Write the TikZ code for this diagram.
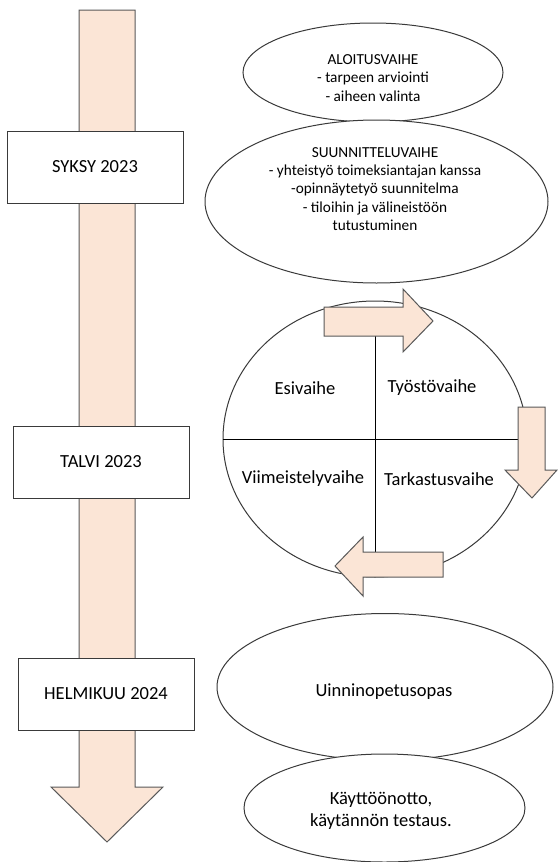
\documentclass[tikz,border=0pt]{standalone}
\usepackage{fontspec}
\setmainfont{Carlito}
\usepackage{tikz}
\usetikzlibrary{shapes.geometric,calc}
\definecolor{peach}{HTML}{FBE5D6}
\definecolor{arrline}{HTML}{595959}
\definecolor{ln}{HTML}{3A3A3A}
\tikzset{
  blockarr/.style={fill=peach, draw=arrline, line width=1pt, line join=miter},
  period/.style={draw=ln, line width=1pt, fill=white, minimum width=176pt, minimum height=72pt, inner sep=0pt, font=\fontsize{18.5}{22}\selectfont},
  phase/.style={ellipse, draw=ln, line width=1pt, fill=white, inner sep=0pt},
  smalltxt/.style={align=center, inner sep=0pt, font=\fontsize{15.3}{18.3}\selectfont},
  bigtxt/.style={align=center, inner sep=0pt, font=\fontsize{18.5}{22}\selectfont},
  divline/.style={draw=black, line width=1pt},
}
\begin{document}
\begin{tikzpicture}[x=1pt,y=-1pt]
  \useasboundingbox (0,0) rectangle (557,862);
  % timeline arrow
  \draw[blockarr] (79,10) -- (135,10) -- (135,787) -- (163,787) -- (107,842) -- (51,787) -- (79,787) -- cycle;
  \node[period] (syksy) at (95,167) {SYKSY 2023};
  \node[period] (talvi) at (101,462) {TALVI 2023};
  \node[period] (helmi) at (106,694) {HELMIKUU 2024};
  % start and planning
  \node[phase, minimum width=260pt, minimum height=99pt] (aloitus) at (373,72.5) {};
  \node[smalltxt] (aloitusT) at (373,78) {ALOITUSVAIHE\\- tarpeen arviointi\\- aiheen valinta};
  \node[phase, minimum width=343pt, minimum height=163pt] (suunn) at (376.5,201.5) {};
  \node[smalltxt] (suunnT) at (375,189) {SUUNNITTELUVAIHE\\- yhteistyö toimeksiantajan kanssa\\-opinnäytetyö suunnitelma\\- tiloihin ja välineistöön\\tutustuminen};
  % working cycle
  \node[phase, minimum width=304pt, minimum height=276pt] (cyc) at (375,439) {};
  \coordinate (topA) at (375,336);
  \coordinate (botA) at (375,552);
  \coordinate (rightA) at (518,439);
  \draw[divline] (topA) -- (botA);
  \draw[divline] (cyc.west) -- (rightA);
  \draw[blockarr] (324,307) -- (403,307) -- (403,289) -- (433,321) -- (403,352) -- (403,336) -- (324,336) -- cycle;
  \draw[blockarr] (518,407) -- (545,407) -- (545,470) -- (557,470) -- (532,498) -- (505,470) -- (518,470) -- cycle;
  \draw[blockarr] (443,552) -- (443,577) -- (363,577) -- (363,596) -- (335,566) -- (363,537) -- (363,552) -- cycle;
  \node[bigtxt] (esi) at (305,388) {Esivaihe};
  \node[bigtxt] (tyosto) at (432,388) {Työstövaihe};
  \node[bigtxt] (viim) at (303,479) {Viimeistelyvaihe};
  \node[bigtxt] (tark) at (439,479) {Tarkastusvaihe};
  % result
  \node[phase, minimum width=336pt, minimum height=147pt] (opas) at (385,687) {};
  \node[bigtxt] (opasT) at (384,692) {Uinninopetusopas};
  \node[phase, minimum width=281pt, minimum height=108pt] (kaytto) at (384.5,808) {};
  \node[bigtxt] (kayttoT) at (381,811) {Käyttöönotto,\\käytännön testaus.};
\end{tikzpicture}
\end{document}
